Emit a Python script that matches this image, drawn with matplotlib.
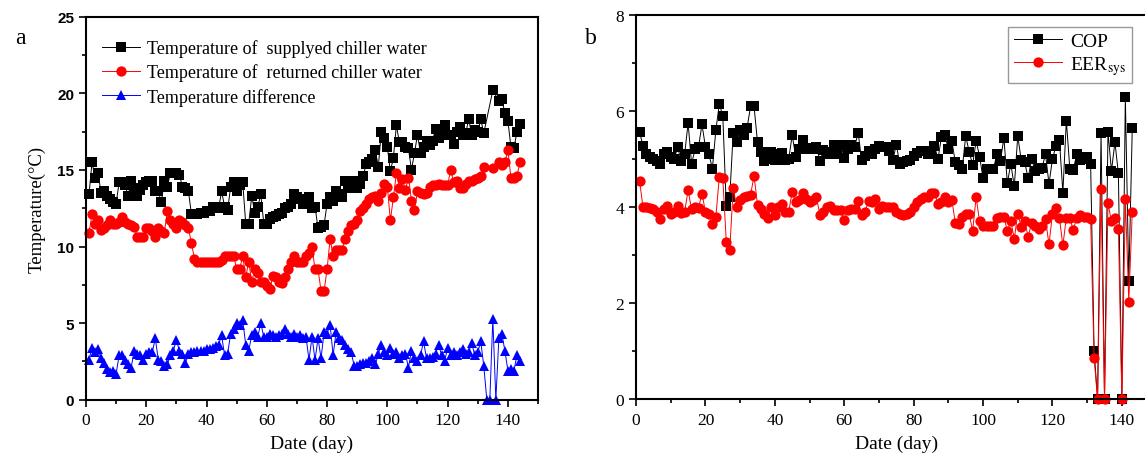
import numpy as np
import matplotlib
matplotlib.use("Agg")
import matplotlib.pyplot as plt
from matplotlib.ticker import MultipleLocator

plt.rcParams["font.family"] = ["Liberation Serif", "DejaVu Serif"]
plt.rcParams["mathtext.fontset"] = "stix"

nan = np.nan

# ---- panel a: chiller water temperatures (days 1..144) ----
days_a = np.arange(1, 145)

supply_temp = [
    13.4, 15.5, 14.5, 14.8, 13.5, 13.6, 13.3, 13.1, 12.9, 12.8,
    14.2, 14.2, 14.0, 13.3, 14.3, 13.8, 13.3, 13.7, 14.0, 14.2,
    14.3, 14.3, 13.6, 13.6, 12.9, 14.3, 13.9, 14.8, 14.8, 14.8,
    14.7, 13.9, 13.8, 13.6, 12.1, 12.1, 12.1, 12.2, 12.2, 12.3,
    12.3, 12.6, 12.6, 12.5, 13.6, 12.6, 12.4, 13.9, 14.2, 13.6,
    14.0, 14.2, 11.5, 11.5, 13.3, 12.2, 12.6, 13.4, 11.5, 11.5,
    11.8, 11.9, 12.0, 12.1, 12.2, 12.5, 12.6, 12.8, 13.4, 13.2,
    13.1, 12.8, 13.0, 13.2, 12.5, 12.6, 11.2, 11.3, 11.4, 12.8,
    13.2, 13.0, 13.6, 13.4, 13.2, 14.3, 13.8, 14.0, 14.3, 13.8,
    14.1, 14.6, 15.4, 15.5, 15.7, 16.3, 15.2, 17.5, 17.1, 16.5,
    14.9, 15.8, 17.9, 16.8, 16.8, 16.5, 16.4, 15.0, 16.1, 17.3,
    16.1, 16.5, 16.9, 16.6, 16.9, 17.7, 17.1, 17.3, 17.9, 17.3,
    17.3, 16.7, 17.5, 17.8, 17.3, 17.4, 18.3, 17.3, 17.6, 17.5,
    18.3, 17.4, nan, nan, 20.2, nan, 19.5, 19.6, 18.7, 18.2,
    16.5, 16.4, 17.5, 18.0,
]

return_temp = [
    10.9, 12.1, 11.5, 11.7, 11.1, 11.2, 11.4, 11.7, 11.5, 11.5,
    11.6, 11.9, 11.6, 11.5, 11.4, 11.3, 10.6, 10.6, 10.6, 11.2,
    11.2, 11.0, 10.6, 11.2, 11.0, 10.9, 12.3, 11.7, 11.5, 11.2,
    11.7, 11.6, 11.4, 11.2, 10.2, 9.2, 9.0, 9.0, 9.0, 9.0,
    9.0, 9.0, 9.0, 9.0, 9.1, 9.4, 9.4, 9.4, 9.4, 8.5,
    8.5, 9.4, 8.0, 9.0, 7.7, 8.5, 8.3, 7.7, 7.7, 7.4,
    7.2, 8.1, 8.0, 7.7, 7.6, 8.0, 8.5, 9.0, 9.4, 9.0,
    9.0, 9.0, 9.4, 9.6, 10.0, 8.5, 8.5, 7.1, 7.1, 8.5,
    10.5, 9.4, 9.8, 9.8, 9.8, 10.5, 11.0, 11.4, 11.5, 11.7,
    12.3, 12.5, 12.8, 13.1, 13.2, 13.3, 13.0, 13.5, 14.1, 13.9,
    11.7, 13.2, 14.8, 13.8, 14.4, 13.7, 14.5, 13.0, 12.4, 13.6,
    13.5, 13.4, 13.5, 13.9, 14.0, 14.0, 14.1, 14.0, 14.0, 14.0,
    15.0, 14.2, 14.3, 13.8, 13.8, 14.1, 14.3, 14.3, 14.4, 14.5,
    14.6, 15.2, nan, nan, 15.1, nan, 15.5, 15.3, 15.5, 16.3,
    14.5, 14.5, 14.6, 15.5,
]

temp_diff = [
    2.6, 3.4, 3.1, 3.3, 2.7, 2.4, 2.0, 1.8, 1.9, 1.7,
    2.9, 2.9, 2.6, 2.3, 2.1, 3.2, 3.0, 2.9, 2.6, 3.0,
    3.1, 3.1, 4.0, 2.6, 2.5, 2.2, 2.3, 2.9, 3.2, 3.9,
    3.2, 3.0, 2.4, 3.0, 3.1, 3.1, 3.2, 3.2, 3.2, 3.3,
    3.3, 3.4, 3.5, 3.6, 4.2, 2.9, 3.0, 4.3, 4.6, 5.0,
    4.9, 5.2, 3.6, 3.2, 4.2, 4.4, 4.1, 5.0, 4.1, 4.1,
    4.3, 4.2, 4.1, 4.2, 4.3, 4.6, 4.3, 4.1, 4.3, 4.1,
    4.2, 4.0, 4.1, 2.6, 4.1, 2.6, 4.0, 2.7, 4.4, 4.3,
    4.9, 2.9, 4.4, 4.0, 3.9, 3.6, 3.3, 3.1, 2.2, 2.2,
    2.3, 2.4, 2.4, 2.5, 2.7, 2.3, 3.0, 3.6, 3.1, 2.9,
    3.4, 3.0, 3.1, 2.7, 2.9, 3.0, 2.1, 3.2, 2.7, 2.5,
    2.9, 3.8, 2.7, 2.7, 2.8, 3.0, 3.6, 2.9, 2.5, 3.4,
    2.9, 3.1, 2.9, 3.1, 3.3, 3.0, 3.1, 3.7, 2.9, 3.1,
    3.8, 2.2, 0.0, 0.0, 5.3, 0.0, 4.0, 4.3, 3.2, 1.9,
    2.0, 1.9, 2.9, 2.5,
]

# ---- panel b: COP and EER_sys (days 1..143) ----
days_b = np.arange(1, 144)

cop = [
    5.57, 5.27, 5.10, 5.05, 5.00, 4.95, 4.90, 5.10, 5.15, 5.05,
    5.00, 5.25, 4.95, 5.10, 5.75, 4.90, 5.20, 5.25, 5.72, 5.25,
    5.10, 4.80, 5.60, 6.15, 5.90, 4.02, 4.20, 5.55, 5.35, 5.60,
    5.50, 5.65, 6.10, 6.10, 5.35, 5.15, 4.95, 5.00, 5.15, 4.98,
    5.10, 5.13, 4.98, 5.00, 5.50, 5.05, 5.20, 5.40, 5.20, 5.22,
    5.20, 5.25, 4.96, 5.18, 5.10, 5.14, 5.30, 5.10, 5.30, 5.02,
    5.20, 5.30, 5.25, 5.55, 4.98, 5.07, 5.17, 5.10, 5.20, 5.28,
    5.25, 5.25, 5.17, 4.97, 5.30, 4.90, 4.93, 4.95, 4.98, 5.07,
    5.12, 5.17, 5.17, 5.10, 5.17, 5.28, 5.00, 5.45, 5.50, 5.20,
    5.38, 4.93, 4.88, 4.80, 5.48, 5.15, 4.88, 5.38, 5.05, 4.60,
    4.80, 4.80, 4.80, 5.10, 4.96, 5.44, 4.50, 4.90, 4.43, 5.48,
    4.97, 4.93, 4.60, 5.00, 4.76, 4.80, 4.82, 5.10, 4.48, 5.00,
    5.27, 5.40, 4.30, 5.80, 4.80, 4.78, 5.10, 4.97, 5.00, 5.05,
    4.90, 1.00, 0.00, 5.55, 0.00, 5.57, 4.75, 5.35, 4.70, 0.00,
    6.30, 2.45, 5.65,
]

eer_sys = [
    4.55, 4.00, 4.00, 3.97, 3.95, 3.90, 3.75, 3.95, 4.03, 3.85,
    3.90, 4.03, 3.88, 3.90, 4.35, 3.95, 4.00, 3.98, 4.28, 3.90,
    3.85, 3.65, 3.80, 4.63, 4.60, 3.28, 3.10, 4.40, 4.00, 4.15,
    4.20, 4.22, 4.25, 4.65, 4.05, 3.95, 3.85, 3.77, 4.00, 3.83,
    4.00, 4.07, 3.90, 3.90, 4.32, 4.10, 4.15, 4.30, 4.17, 4.10,
    4.15, 4.20, 3.83, 3.90, 4.00, 4.03, 3.93, 3.93, 3.93, 3.73,
    3.93, 3.95, 3.96, 4.13, 3.83, 3.90, 4.13, 4.10, 4.17, 3.96,
    4.03, 4.00, 4.00, 4.00, 3.90, 3.86, 3.83, 3.85, 3.90, 4.00,
    4.10, 4.17, 4.20, 4.20, 4.30, 4.30, 4.07, 4.10, 4.20, 4.10,
    4.15, 3.67, 3.64, 3.80, 3.86, 3.86, 3.50, 4.20, 3.70, 3.60,
    3.60, 3.60, 3.60, 3.78, 3.80, 3.80, 3.50, 3.70, 3.34, 3.86,
    3.58, 3.70, 3.38, 3.67, 3.60, 3.55, 3.60, 3.74, 3.22, 3.86,
    3.97, 3.78, 3.20, 3.78, 3.77, 3.52, 3.78, 3.83, 3.80, 3.80,
    3.75, 0.85, 0.00, 4.37, 0.00, 4.08, 3.70, 3.77, 3.55, 0.00,
    4.17, 2.03, 3.90,
]

x_ticks = [0, 20, 40, 60, 80, 100, 120, 140]


def plot_series(ax, x, y, color, marker, ms, label):
    """Plot a marker-line series, joining points across missing days."""
    y = np.asarray(y, dtype=float)
    ok = ~np.isnan(y)
    ax.plot(x[ok], y[ok], color=color, marker=marker, markersize=ms,
            linewidth=0.7, markeredgewidth=0, label=label, clip_on=False)


def style_axes(ax):
    for side in ["left", "bottom", "top", "right"]:
        ax.spines[side].set_linewidth(1.5)
    ax.tick_params(which="both", direction="out", top=False, right=False, width=1.2)
    ax.tick_params(which="major", length=5)
    ax.tick_params(which="minor", length=3)
    ax.set_xlim(0, 150)
    ax.set_xticks(x_ticks)
    ax.xaxis.set_minor_locator(MultipleLocator(10))
    ax.tick_params(axis="x", labelsize=12.5, pad=4)
    ax.set_xlabel("Date (day)", fontsize=14, labelpad=5)


fig = plt.figure(figsize=(11.45, 4.6), dpi=100)

# panel a
ax1 = fig.add_axes([0.0751, 0.1289, 0.3948, 0.8326])
plot_series(ax1, days_a, supply_temp, "black", "s", 6.5, "Temperature of  supplyed chiller water")
plot_series(ax1, days_a, return_temp, "#ff0000", "o", 7.4, "Temperature of  returned chiller water")
plot_series(ax1, days_a, temp_diff, "#0000ff", "^", 7.6, "Temperature difference")
style_axes(ax1)
ax1.set_ylim(0, 25)
ax1.set_yticks([0, 5, 10, 15, 20, 25])
ax1.yaxis.set_minor_locator(MultipleLocator(2.5))
for lab in ax1.get_yticklabels():
    lab.set_family("Liberation Sans")
    lab.set_fontweight("bold")
    lab.set_fontsize(11)
ax1.set_ylabel("Temperature(°C)", fontsize=13.5, labelpad=8)
ax1.legend(loc="upper left", bbox_to_anchor=(0.02, 0.96), frameon=False,
           fontsize=13, handlelength=2.1, handletextpad=0.4, labelspacing=0.35,
           borderaxespad=0)

# panel b
ax2 = fig.add_axes([0.5555, 0.1304, 0.4546, 0.8348])
plot_series(ax2, days_b, cop, "black", "s", 6.5, "COP")
plot_series(ax2, days_b, eer_sys, "#ff0000", "o", 7.4, r"EER$_{\mathrm{sys}}$")
style_axes(ax2)
ax2.set_ylim(0, 8)
ax2.set_yticks([0, 2, 4, 6, 8])
ax2.yaxis.set_minor_locator(MultipleLocator(1))
ax2.tick_params(axis="y", labelsize=12.5)
leg = ax2.legend(loc="upper right", bbox_to_anchor=(0.953, 0.97), frameon=True,
                 fancybox=False, fontsize=14, handlelength=2.5, handletextpad=0.4,
                 labelspacing=0.2, borderpad=0.3, borderaxespad=0)
leg.get_frame().set_edgecolor("#808080")
leg.get_frame().set_linewidth(1.0)

fig.text(15 / 1145, 1 - 38 / 460, "a", fontsize=17, va="center")
fig.text(585 / 1145, 1 - 38 / 460, "b", fontsize=17, va="center")

fig.savefig("out.png", dpi=100)
